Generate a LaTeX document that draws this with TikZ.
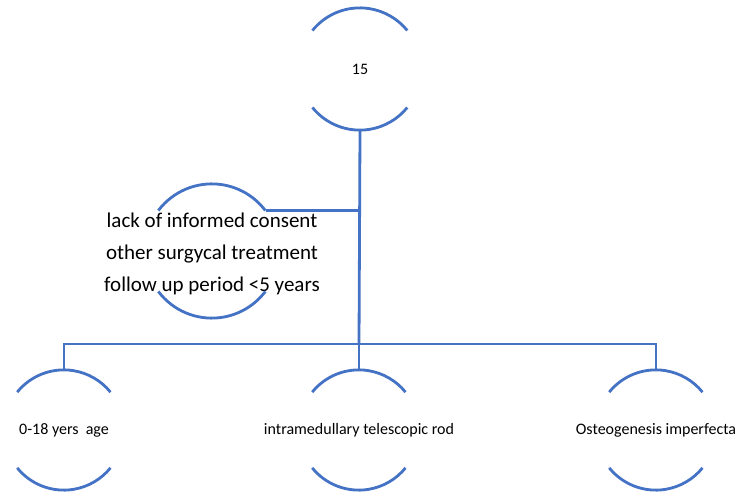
\documentclass[tikz,border=0pt]{standalone}
\usepackage{fontspec}
\setmainfont{Carlito}
\definecolor{lineblue}{HTML}{4472C4}
\begin{document}
\begin{tikzpicture}[x=1pt,y=-1pt,
  conn/.style={draw=lineblue,line width=2.8pt},
  hub/.style={circle,draw=none,inner sep=0pt,minimum size=#1},
  small/.style={font=\fontsize{16}{19}\selectfont,text=black},
  big/.style={font=\fontsize{21}{32}\selectfont,text=black,align=center}]
\useasboundingbox (0,0) rectangle (736,492);
% nodes
\node[hub=122pt] (top) at (360,69) {};
\node[small] (toptxt) at (top.center) {15};
\node[hub=134pt] (mid) at (212,251) {};
\node[big] (midtxt) at (212,254) {lack of informed consent\\other surgycal treatment\\follow up period <5 years};
\node[hub=120pt] (b1) at (64,430) {};
\node[hub=120pt] (b2) at (359,430) {};
\node[hub=120pt] (b3) at (656,430) {};
\node[small] (t1) at (b1.center) {0-18 yers\ \ age};
\node[small] (t2) at (b2.center) {intramedullary telescopic rod};
\node[small] (t3) at (b3.center) {Osteogenesis imperfecta};
\coordinate (bar) at (359,344);
% arcs
\draw[conn] (top.141) arc[start angle=141,end angle=39,radius=61pt];
\draw[conn] (top.219) arc[start angle=219,end angle=321,radius=61pt];
\draw[conn] (mid.143) arc[start angle=143,end angle=37,radius=67pt];
\draw[conn] (mid.217) arc[start angle=217,end angle=323,radius=67pt];
\foreach \n in {b1,b2,b3}{
  \draw[conn] (\n.141) arc[start angle=141,end angle=39,radius=60pt];
  \draw[conn] (\n.219) arc[start angle=219,end angle=321,radius=60pt];
}
% connectors
\draw[conn] (top.south) -- (bar);
\draw[conn] (mid.37) -- (mid.37 -| bar);
\draw[conn] (b1.north) -- (b1.north |- bar) -- (b3.north |- bar) -- (b3.north);
\draw[conn] (bar) -- (b2.north);
\end{tikzpicture}
\end{document}
